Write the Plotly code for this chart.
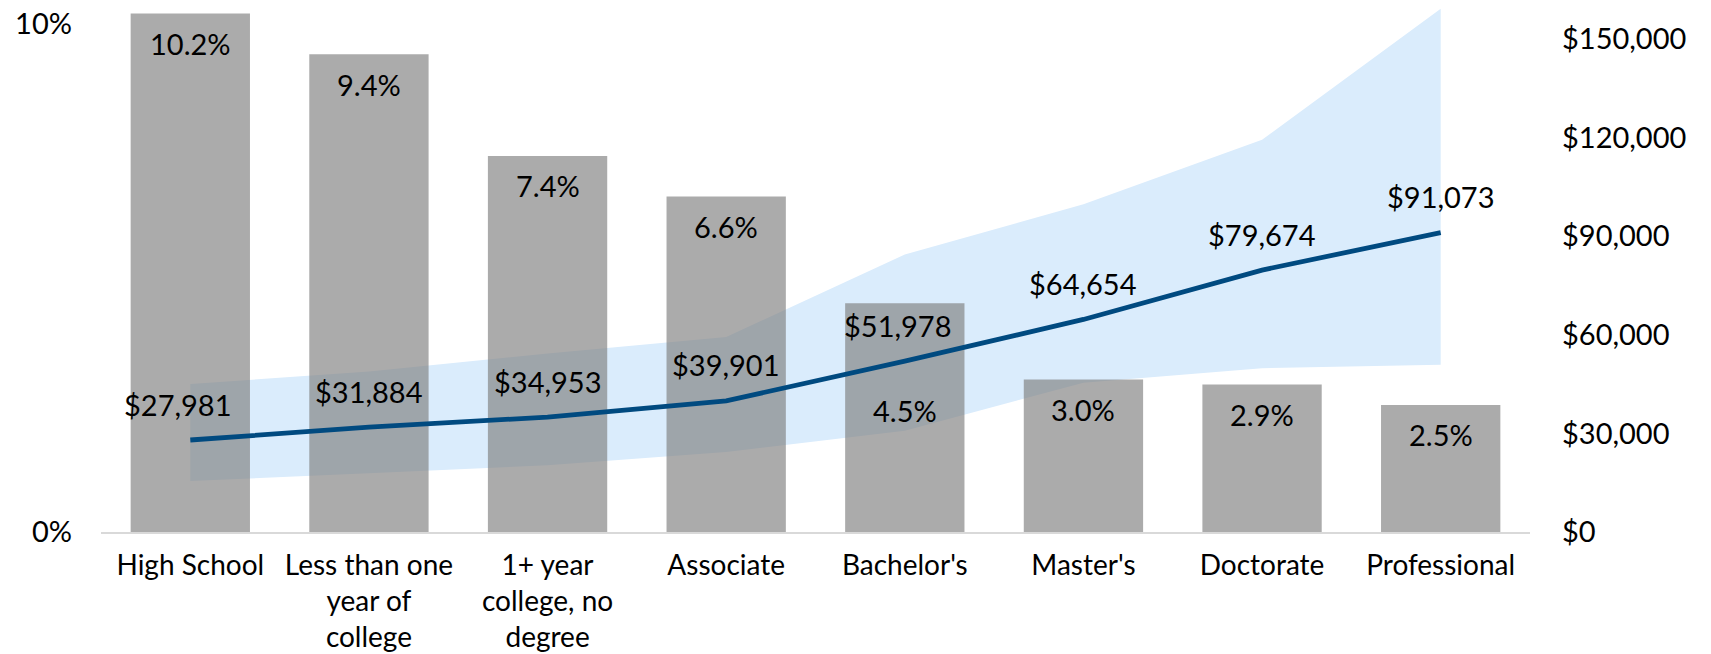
import plotly.graph_objects as go

categories = ["High School", "Less than one year of college", "1+ year college, no degree",
              "Associate", "Bachelor's", "Master's", "Doctorate", "Professional"]
tick_labels = ["High School", "Less than one<br>year of<br>college", "1+ year<br>college, no<br>degree",
               "Associate", "Bachelor's", "Master's", "Doctorate", "Professional"]
unemployment_pct = [10.2, 9.4, 7.4, 6.6, 4.5, 3.0, 2.9, 2.5]
median_earnings = [27981, 31884, 34953, 39901, 51978, 64654, 79674, 91073]
earnings_p25 = [15500, 17900, 20300, 24300, 30800, 45400, 49800, 50900]
earnings_p75 = [45000, 48800, 54300, 59300, 84400, 99700, 119300, 159200]

FONT = "Lato"
FS = 29
BAR_COLOR = "rgba(128,128,128,0.66)"
BAND_COLOR = "#DAECFC"
LINE_COLOR = "#004A80"

fig = go.Figure()

# shaded earnings band (bottom layer, axis y = dollars)
fig.add_trace(go.Scatter(
    x=categories + categories[::-1],
    y=earnings_p75 + earnings_p25[::-1],
    fill="toself", fillcolor=BAND_COLOR, mode="lines",
    line=dict(width=0, color=BAND_COLOR), yaxis="y", hoverinfo="skip", showlegend=False))

# bars (middle layer, axis y2 = percent)
fig.add_trace(go.Bar(
    x=categories, y=unemployment_pct, marker=dict(color=BAR_COLOR, line=dict(width=0)),
    yaxis="y2", showlegend=False))

# median line (top layer, axis y3 = dollars)
fig.add_trace(go.Scatter(
    x=categories, y=median_earnings, mode="lines",
    line=dict(color=LINE_COLOR, width=4.8), yaxis="y3", showlegend=False))

annotations = []
for c, v in zip(categories, unemployment_pct):
    shift = -107 if c == "Bachelor's" else -30
    annotations.append(dict(x=c, y=v, xref="x", yref="y2", text=f"{v:.1f}%",
                            showarrow=False, yshift=shift, yanchor="middle",
                            font=dict(family=FONT, size=FS, color="black")))
for i, (c, v) in enumerate(zip(categories, median_earnings)):
    xs = -12 if i == 0 else (-7 if c == "Bachelor's" else 0)
    annotations.append(dict(x=c, y=v, xref="x", yref="y3", text=f"${v:,}",
                            showarrow=False, yshift=36, xshift=xs, yanchor="middle",
                            font=dict(family=FONT, size=FS, color="black")))

RMAX = 160000
LMAX = 10.35

fig.update_layout(
    template="none",
    width=1711, height=654,
    margin=dict(l=101, r=181, t=6, b=122, pad=0, autoexpand=False),
    paper_bgcolor="white", plot_bgcolor="white",
    font=dict(family=FONT, size=FS, color="black"),
    bargap=0.332,
    hovermode=False,
    xaxis=dict(type="category", tickvals=categories, ticktext=tick_labels, automargin=False,
               showline=True, linecolor="#D9D9D9", linewidth=2, showgrid=False, zeroline=False,
               ticks="", ticklabelstandoff=7, ticklabeloverflow="allow",
               tickfont=dict(family=FONT, size=28, color="black")),
    yaxis=dict(range=[0, RMAX], side="right", tickvals=[0, 30000, 60000, 90000, 120000, 150000],
               ticktext=["$0", "$30,000", "$60,000", "$90,000", "$120,000", "$150,000"],
               showgrid=False, zeroline=False, showline=False, ticks="", automargin=False,
               ticklabelstandoff=31, ticklabeloverflow="allow",
               tickfont=dict(family=FONT, size=FS, color="black")),
    yaxis2=dict(range=[0, LMAX], side="left", overlaying="y", tickvals=[0, 10],
                ticktext=["0%", "10%"], showgrid=False, zeroline=False, showline=False, ticks="",
                automargin=False, ticklabelstandoff=28, ticklabeloverflow="allow",
                tickfont=dict(family=FONT, size=FS, color="black")),
    yaxis3=dict(range=[0, RMAX], overlaying="y", side="right", visible=False),
    annotations=annotations,
)

fig.write_html("out.html", config={"displayModeBar": False},
               post_script="document.body.style.margin='0';document.body.style.overflow='hidden';")
